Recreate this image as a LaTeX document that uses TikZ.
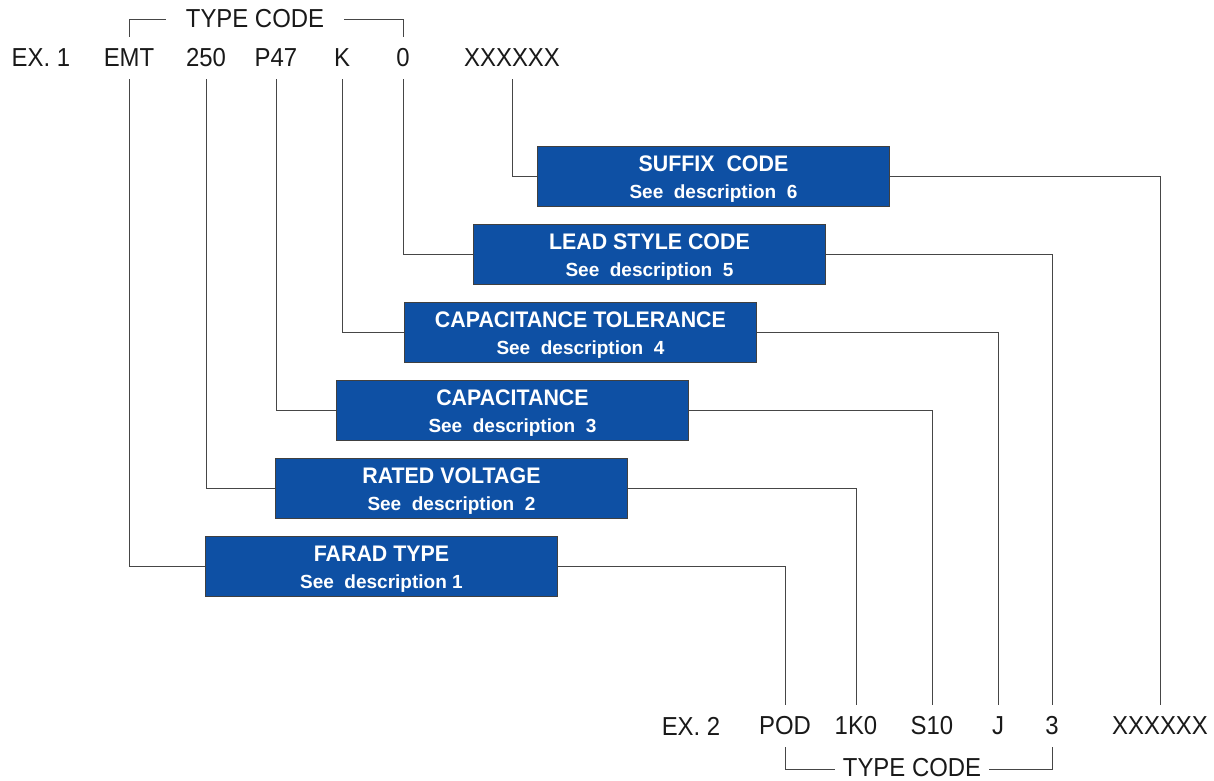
\documentclass[tikz,border=0pt]{standalone}
\usepackage{fontspec}
\setmainfont{Liberation Sans}[FakeStretch=0.92]
\newfontfamily\descfont{Liberation Sans}
\newfontfamily\titlefont{Liberation Sans}[FakeStretch=0.95]
\definecolor{boxblue}{RGB}{14,80,164}
\definecolor{linegray}{RGB}{70,70,70}
\newcommand\dsc[1]{{\descfont\bfseries\fontsize{19}{27}\selectfont #1}}
\newcommand\ttl[1]{\rule{0pt}{21pt}#1}
\begin{document}
\begin{tikzpicture}[x=1pt,y=-1pt,
  code/.style={font=\fontsize{26}{30}\selectfont, inner xsep=0pt, inner ysep=12pt, text=black!90},
  box/.style={draw=black!75, fill=boxblue, line width=0.9pt, minimum width=352pt, minimum height=60pt,
    anchor=north west, text=white, align=center, inner sep=0pt, font=\titlefont\bfseries\fontsize{22.5}{27}\selectfont},
  conn/.style={draw=linegray, line width=0.9pt}]
\useasboundingbox (0,0) rectangle (1214,780);
% top codes
\node[code] (ex1) at (41,58) {EX. 1};
\node[code] (emt) at (129,58) {EMT};
\node[code] (v250) at (206,58) {250};
\node[code] (p47) at (276,58) {P47};
\node[code] (k) at (342,58) {K};
\node[code] (zero) at (403,58) {0};
\node[code] (xa) at (512,58) {XXXXXX};
\node[code, inner xsep=20pt, inner ysep=0pt] (tca) at (255,19) {TYPE CODE};
% bottom codes
\node[code] (ex2) at (691,726) {EX. 2};
\node[code] (pod) at (785,726) {POD};
\node[code] (k1) at (856,726) {1K0};
\node[code] (s10) at (932,726) {S10};
\node[code] (j) at (998,726) {J};
\node[code] (three) at (1052,726) {3};
\node[code] (xb) at (1160,726) {XXXXXX};
\node[code, inner xsep=8pt, inner ysep=0pt] (tcb) at (912,768) {TYPE CODE};
\coordinate (tcbl) at (tcb.west |- 0,769);
\coordinate (tcbr) at (tcb.east |- 0,769);
% boxes
\node[box] (suffix) at (537,146) {\ttl{SUFFIX\ \ CODE}\\\dsc{See\ \ description\ \ 6}};
\node[box] (lead) at (473,224) {\ttl{LEAD STYLE CODE}\\\dsc{See\ \ description\ \ 5}};
\node[box] (tol) at (404,302) {\ttl{CAPACITANCE TOLERANCE}\\\dsc{See\ \ description\ \ 4}};
\node[box] (cap) at (336,380) {\ttl{CAPACITANCE}\\\dsc{See\ \ description\ \ 3}};
\node[box] (volt) at (275,458) {\ttl{RATED VOLTAGE}\\\dsc{See\ \ description\ \ 2}};
\node[box] (farad) at (205,536) {\ttl{FARAD TYPE}\\\dsc{See\ \ description 1}};
% brackets
\draw[conn] (emt.north) |- (tca.west);
\draw[conn] (tca.east) -| (zero.north);
\draw[conn] (pod.south) |- (tcbl);
\draw[conn] (tcbr) -| (three.south);
% connectors
\draw[conn] (xa.south) |- (suffix.west);
\draw[conn] (zero.south) |- (lead.west);
\draw[conn] (k.south) |- (tol.west);
\draw[conn] (p47.south) |- (cap.west);
\draw[conn] (v250.south) |- (volt.west);
\draw[conn] (emt.south) |- (farad.west);
\draw[conn] (suffix.east) -| (xb.north);
\draw[conn] (lead.east) -| (three.north);
\draw[conn] (tol.east) -| (j.north);
\draw[conn] (cap.east) -| (s10.north);
\draw[conn] (volt.east) -| (k1.north);
\draw[conn] (farad.east) -| (pod.north);
\end{tikzpicture}
\end{document}
